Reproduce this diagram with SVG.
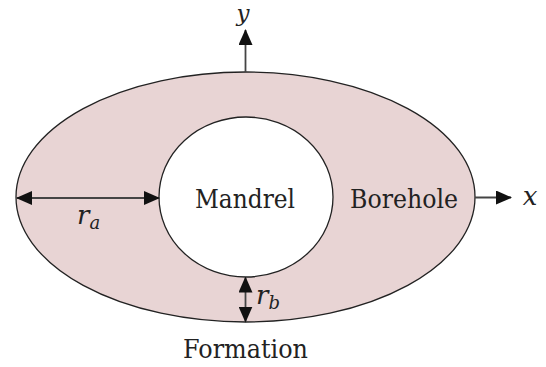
<svg xmlns="http://www.w3.org/2000/svg" width="546" height="367" viewBox="0 0 546 367">
<style>
.shape{stroke:#222;stroke-width:1.3}
.ln{stroke:#444;stroke-width:1.8;fill:none}
.t{font-family:'DejaVu Serif','Liberation Serif',serif;font-size:26px;fill:#222}
.m{font-family:'DejaVu Serif','Liberation Serif',serif;font-style:italic;font-size:26px;fill:#222}
.s{font-size:18px}
</style>
<defs>
<marker id="ah" viewBox="0 0 16 14" refX="15" refY="7" markerWidth="16" markerHeight="14" markerUnits="userSpaceOnUse" orient="auto-start-reverse">
<path d="M0,0 L16,7 L0,14 Z" fill="#111"/>
</marker>
</defs>
<g id="borehole">
<ellipse cx="245.5" cy="197" rx="229.5" ry="125" fill="#e8d4d4" class="shape"/>
<text x="404" y="208" class="t" text-anchor="middle" textLength="108" lengthAdjust="spacingAndGlyphs">Borehole</text>
</g>
<g id="mandrel">
<ellipse cx="246" cy="197" rx="87" ry="80" fill="#fff" class="shape"/>
<text x="245" y="208" class="t" text-anchor="middle" textLength="100" lengthAdjust="spacingAndGlyphs">Mandrel</text>
</g>
<g id="formation">
<text x="245.5" y="358" class="t" text-anchor="middle" textLength="125" lengthAdjust="spacingAndGlyphs">Formation</text>
</g>
<g id="connectors">
<line x1="245.5" y1="72" x2="245.5" y2="30" class="ln" marker-end="url(#ah)"/>
<line x1="475" y1="197.5" x2="511" y2="197.5" class="ln" marker-end="url(#ah)"/>
<line x1="17" y1="198" x2="159" y2="198" class="ln" marker-start="url(#ah)" marker-end="url(#ah)"/>
<line x1="245.5" y1="277.5" x2="245.5" y2="321.5" class="ln" marker-start="url(#ah)" marker-end="url(#ah)"/>
</g>
<g id="labels">
<text x="243" y="21" class="m" style="font-size:23px" text-anchor="middle">y</text>
<text x="530" y="205" class="m" text-anchor="middle">x</text>
<text x="77" y="224" class="m">r<tspan class="s" dy="5">a</tspan></text>
<text x="256" y="304" class="m">r<tspan class="s" dy="5">b</tspan></text>
</g>
</svg>
